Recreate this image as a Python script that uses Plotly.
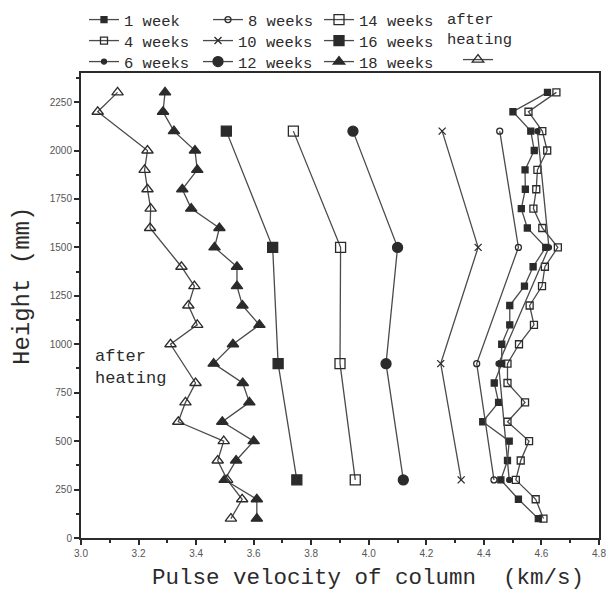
import plotly.graph_objects as go

# ---------------- data ----------------
heights_all = [2300, 2200, 2100, 2000, 1900, 1800, 1700, 1600, 1500, 1400, 1300, 1200,
               1100, 1000, 900, 800, 700, 600, 500, 400, 300, 200, 100]
heights_four = [2100, 1500, 900, 300]
heights_after = [2300, 2200, 2000, 1900, 1800, 1700, 1600, 1400, 1300, 1200, 1100, 1000,
                 800, 700, 600, 500, 400, 300, 200, 100]

v_1week = [4.621, 4.501, 4.563, 4.575, 4.543, 4.544, 4.530, 4.551, 4.615, 4.571, 4.541, 4.490,
           4.490, 4.462, 4.462, 4.436, 4.451, 4.396, 4.488, 4.482, 4.459, 4.520, 4.589]
v_4weeks = [4.652, 4.555, 4.603, 4.620, 4.586, 4.582, 4.572, 4.603, 4.657, 4.612, 4.602, 4.559,
            4.574, 4.522, 4.482, 4.482, 4.543, 4.482, 4.557, 4.528, 4.511, 4.580, 4.607]
v_6weeks = [4.586, 4.626, 4.451, 4.488]
v_8weeks = [4.455, 4.520, 4.375, 4.435]
v_10weeks = [4.255, 4.380, 4.250, 4.321]
v_12weeks = [3.945, 4.100, 4.060, 4.120]
v_14weeks = [3.738, 3.902, 3.900, 3.953]
v_16weeks = [3.505, 3.666, 3.685, 3.750]
v_18weeks = [3.292, 3.285, 3.323, 3.396, 3.404, 3.352, 3.383, 3.481, 3.464, 3.542, 3.542, 3.561,
             3.620, 3.528, 3.461, 3.562, 3.585, 3.491, 3.600, 3.539, 3.499, 3.611, 3.611]
v_after = [3.127, 3.058, 3.231, 3.221, 3.231, 3.242, 3.240, 3.349, 3.394, 3.373, 3.404, 3.311,
           3.398, 3.363, 3.338, 3.496, 3.475, 3.508, 3.560, 3.521]

x_ticks = [3.0, 3.2, 3.4, 3.6, 3.8, 4.0, 4.2, 4.4, 4.6, 4.8]
x_tick_labels = ["3.0", "3.2", "3.4", "3.6", "3.8", "4.0", "4.2", "4.4", "4.6", "4.8"]
y_ticks = [0, 250, 500, 750, 1000, 1250, 1500, 1750, 2000, 2250]

x_title = "Pulse velocity of column  (km/s)"
y_title = "Height (mm)"
after_label = "after<br>heating"

# ---------------- styling ----------------
INK = "#2b2b2b"
LINE = "#4a4a4a"
MONO = "Liberation Mono, DejaVu Sans Mono, monospace"
# the page body has a small margin, so the figure is drawn slightly smaller
W, H = 606, 589
L, R, T, B = 73, 15, 65, 59
PW, PH = W - L - R, H - T - B

# name, x, y, symbol, size, legend id, legend x (fig px), legend row centre (fig px)
series = [
    ("1 week", v_1week, heights_all, "square", 6, "legend", 76, 12),
    ("4 weeks", v_4weeks, heights_all, "square-open", 7, "legend2", 76, 33),
    ("6 weeks", v_6weeks, heights_four, "circle", 5, "legend3", 76, 54),
    ("8 weeks", v_8weeks, heights_four, "circle-open", 6, "legend4", 200, 12),
    ("10 weeks", v_10weeks, heights_four, "x-thin", 7, "legend5", 190, 33),
    ("12 weeks", v_12weeks, heights_four, "circle", 10, "legend6", 190, 54),
    ("14 weeks", v_14weeks, heights_four, "square-open", 10, "legend7", 311, 12),
    ("16 weeks", v_16weeks, heights_four, "square", 10, "legend8", 311, 33),
    ("18 weeks", v_18weeks, heights_all, "triangle-up", 10, "legend9", 311, 54),
    (" ", v_after, heights_after, "triangle-up-open", 10, "legend10", 450, 52),
]

LEG_FONT = dict(family=MONO, size=15.5, color=INK)

fig = go.Figure()
legends = {}
for name, xs, ys, sym, size, leg, lx, ly in series:
    fig.add_trace(go.Scatter(
        x=xs, y=ys, mode="lines+markers", name=name, legend=leg,
        line=dict(color=LINE, width=1.3),
        marker=dict(symbol=sym, size=size, color=INK,
                    line=dict(color=INK, width=1.3)),
    ))
    legends[leg] = dict(x=lx / W, y=1 - ly / H, xref="container", yref="container",
                        xanchor="left", yanchor="middle", orientation="v",
                        bgcolor="rgba(0,0,0,0)", font=LEG_FONT, itemclick=False)

fig.update_layout(
    width=W, height=H,
    margin=dict(l=L, r=R, t=T, b=B, autoexpand=False),
    paper_bgcolor="white", plot_bgcolor="white",
    showlegend=True,
    **legends,
    xaxis=dict(range=[3.0, 4.8], tickvals=x_ticks, ticktext=x_tick_labels,
               showgrid=False, zeroline=False, showline=True, linecolor=INK, linewidth=2,
               mirror=True, ticks="outside", ticklen=5, tickwidth=1.5, tickcolor=INK,
               minor=dict(dtick=0.1, ticks="outside", ticklen=3, tickcolor=INK),
               tickfont=dict(family="Liberation Sans, Arial", size=10, color="#555")),
    yaxis=dict(range=[0, 2400], tickvals=y_ticks,
               showgrid=False, zeroline=False, showline=True, linecolor=INK, linewidth=2,
               mirror=True, ticks="outside", ticklen=5, tickwidth=1.5, tickcolor=INK,
               minor=dict(dtick=125, ticks="outside", ticklen=3, tickcolor=INK),
               tickfont=dict(family="Liberation Sans, Arial", size=10, color="#555")),
    annotations=[
        dict(text=after_label, x=3.04, y=880, xref="x", yref="y",
             xanchor="left", yanchor="middle", align="left", showarrow=False,
             font=dict(family=MONO, size=17, color=INK)),
        dict(text=after_label, x=(437 - L) / PW, y=(H - B - 22) / PH, xref="paper", yref="paper",
             xanchor="left", yanchor="middle", align="left", showarrow=False,
             font=LEG_FONT),
        dict(text=x_title, x=(360 - L) / PW, y=(H - B - 570) / PH, xref="paper", yref="paper",
             xanchor="center", yanchor="middle", showarrow=False,
             font=dict(family=MONO, size=22.5, color=INK)),
        dict(text=y_title, x=(14 - L) / PW, y=(H - B - 278) / PH, xref="paper", yref="paper",
             xanchor="center", yanchor="middle", showarrow=False, textangle=-90,
             font=dict(family=MONO, size=24, color=INK)),
    ],
)

fig.write_html("out.html")
